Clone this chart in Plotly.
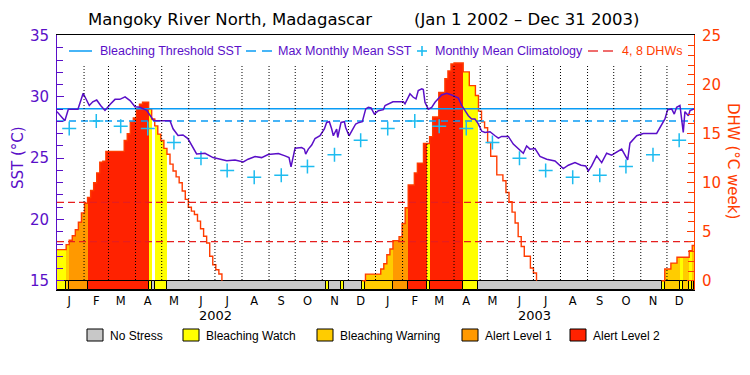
import numpy as np
import pandas as pd
import plotly.graph_objects as go

# ---------------- data ----------------
START = pd.Timestamp("2002-01-01")
N_DAYS = 730
title_site = "Mangoky River North, Madagascar"
title_period = "(Jan 1 2002 \u2013 Dec 31 2003)"
month_letters = ["J", "F", "M", "A", "M", "J", "J", "A", "S", "O", "N", "D"]
year_labels = ["2002", "2003"]

# monthly mean climatology (deg C), Jan..Dec
clim_sst = [27.43, 28.03, 27.60, 27.43, 26.29, 25.00, 23.99, 23.45, 23.60, 24.33, 25.28, 26.46]
mmm_sst = 28.03          # maximum monthly mean
threshold_sst = 29.03    # bleaching threshold (MMM + 1)
dhw_alert_levels = [4, 8]

# SST readings: (day since Jan 1 2002, SST deg C)
sst_points = [
    (0, 28.8), (4, 28.5), (9, 28.06), (13, 29.0), (24, 29.0), (30, 30.3), (37, 29.3),
    (41, 29.6), (45.5, 29.75), (50, 29.3), (55, 28.9), (61, 29.4), (66.5, 29.8), (72, 29.8),
    (78, 30.0), (83.7, 29.7), (89.4, 29.2), (95, 29.15), (102.8, 28.9), (110.4, 28.1),
    (114, 28.05), (129.5, 28.05), (133, 27.4), (138.7, 26.85), (144.4, 26.9), (150, 26.6),
    (154.4, 26.05), (160, 25.35), (169.6, 25.4), (178.8, 25.05), (194.5, 24.8), (204, 24.85),
    (213.5, 24.7), (219, 24.92), (227, 25.14), (234.5, 25.05), (242, 25.3), (246, 25.33),
    (253.7, 25.38), (261.3, 25.19), (265.9, 25.05), (268.2, 24.29), (270.9, 25.05),
    (272.8, 25.82), (280.4, 25.87), (283.5, 25.74), (285, 25.33), (288, 25.74), (291.9, 26.07),
    (295.7, 26.61), (301.4, 26.83), (306.4, 27.38), (309, 27.92), (312.1, 27.98), (314.8, 27.38),
    (316.7, 26.83), (320.5, 27.38), (321.7, 26.69), (325.5, 27.92), (329.3, 27.98),
    (330.8, 27.51), (334.7, 26.83), (338.5, 27.32), (342.3, 27.79), (346.1, 27.92),
    (349.9, 27.98), (353.8, 29.02), (356.8, 29.15), (359.9, 29.1), (363.7, 28.6), (368.3, 28.88),
    (374, 28.96), (376, 29.3), (385, 29.6), (397, 29.6), (398.8, 29.43), (404.5, 30.25),
    (408.3, 29.97), (411.4, 29.84), (414, 30.52), (418, 30.66), (419.8, 30.6), (421.7, 29.56),
    (425.5, 29.0), (429.4, 29.15), (433.2, 29.56), (440.8, 30.16), (446.6, 30.3), (452.3, 30.16),
    (460, 29.9), (463.8, 29.3), (467.6, 28.9), (471.4, 28.47), (475.2, 28.2), (479, 28.2),
    (482.8, 27.8), (486.7, 27.2), (490.5, 27.1), (496.2, 27.16), (502, 26.83), (505.8, 26.64),
    (509.6, 26.78), (517.2, 26.78), (522.9, 26.15), (528.7, 25.79), (534.4, 25.4), (538.2, 26.0),
    (542.1, 25.74), (547.8, 25.79), (553.5, 25.14), (561.2, 24.92), (570.7, 24.78),
    (580.2, 24.15), (586, 24.43), (593.6, 24.64), (600.5, 24.43), (605.9, 24.37), (608.9, 23.96),
    (612.7, 24.37), (618.4, 25.19), (624.2, 24.64), (629.9, 25.41), (635.6, 25.25),
    (643.2, 25.6), (647.1, 25.74), (654, 24.86), (656.6, 26.23), (664.3, 26.83), (671.9, 27.02),
    (687.2, 27.02), (691, 27.51), (696.7, 28.2), (699.8, 28.96), (704.4, 29.02), (707.4, 28.6),
    (710.1, 29.15), (713.9, 29.3), (715.9, 28.2), (717.7, 27.1), (719.6, 28.8), (723.5, 28.47),
    (725.4, 28.88), (730, 29.02),
]

# Degree Heating Weeks, twice-weekly (every 3.5 days from Jan 1 2002)
dhw_step_days = 3.5
dhw_values = (
    [3.18, 3.18, 3.18, 3.69, 4.13, 4.6, 5.2, 5.97, 6.93, 7.9]
    + [8.5, 9.2, 10.0, 11.0, 12.1, 12.2, 13.2, 13.2, 13.2, 13.2]
    + [13.2, 13.2, 14.3, 15.0, 16.2, 16.6, 17.5, 18.0, 18.2, 18.2]
    + [17.5, 16.5, 15.8, 14.96, 14.3, 13.5, 12.9, 11.9, 11.2, 10.6]
    + [10.0, 9.15, 8.3, 7.5, 7.1, 6.76, 6.08, 5.3, 4.54, 3.86]
    + [2.5, 1.64, 1.13, 0.7, 0, 0, 0, 0, 0, 0]
    + [0] * 40
    + [0, 0.68, 0.68, 0.68, 0.68, 0.68, 1.2, 1.74, 2.66, 3.24]
    + [4.1, 4.1, 4.5, 5.84, 7.45, 9.77, 9.77, 11.0, 12.0, 12.0]
    + [14.0, 14.0, 14.7, 16.7, 16.7, 19.2, 19.2, 20.6, 21.4, 22.1]
    + [22.2, 22.2, 22.2, 21.3, 21.3, 19.9, 19.9, 18.9, 17.3, 16.2]
    + [15.6, 14.1, 12.7, 12.7, 10.8, 10.8, 10.2, 9.0, 8.06, 7.0]
    + [5.9, 4.5, 3.5, 2.5, 2.5, 1.3, 0.8, 0, 0, 0]
    + [0] * 39
    + [1.2, 1.2, 1.8, 1.8, 2.4, 2.4, 2.4, 2.4, 3.07, 3.6]
)
# stress level per twice-weekly step, as (level, number of steps)
# 0 no stress, 1 watch, 2 warning, 3 alert 1, 4 alert 2
stress_runs = [
    (1, 3), (2, 1), (3, 6), (4, 20), (1, 1), (0, 1), (1, 4), (0, 52), (1, 1), (0, 4),
    (1, 1), (0, 6), (1, 1), (2, 9), (3, 5), (4, 6), (1, 1), (4, 11), (1, 5), (0, 60),
    (1, 1), (2, 5), (1, 1), (2, 2), (1, 1), (2, 1),
]
stress_names = ["No Stress", "Bleaching Watch", "Bleaching Warning", "Alert Level 1", "Alert Level 2"]
stress_colors = ["#c8c8c8", "#ffff00", "#ffcc00", "#ff9900", "#ff2200"]

# ---------------- styles ----------------
PURPLE = "#5a0fc8"
ORANGE = "#ff3c00"
BLUE = "#0a9cf5"
CYAN = "#1ebcf0"
DASHRED = "#e61e1e"
FONT = "DejaVu Sans"
W, H = 750, 375
L, R, T, B = 57, 56, 35, 85
PW, PH = W - L - R, H - T - B
SST_RANGE = [14.25, 35.05]
DHW_RANGE = [(SST_RANGE[0] - 15) * 1.25, (SST_RANGE[1] - 15) * 1.25]


def to_date(days):
    return START + pd.to_timedelta(np.asarray(days, dtype=float), unit="D")


def px(xp):
    return (xp - L) / PW


def py(yp):
    return (H - B - yp) / PH


END = START + pd.Timedelta(days=N_DAYS)
stress = []
for lvl, n in stress_runs:
    stress += [lvl] * n
n_steps = len(dhw_values)
stress = stress[:n_steps] + [0] * max(0, n_steps - len(stress))
step_start = np.arange(n_steps) * dhw_step_days
DAY_MS = 86400000.0

fig = go.Figure()

# filled area under the DHW curve, coloured by stress level (DHW axis = y)
for lvl in range(1, 5):
    idx = [i for i in range(n_steps) if stress[i] == lvl and dhw_values[i] > 0]
    fig.add_trace(go.Bar(
        x=to_date(step_start[idx] + dhw_step_days / 2), y=[dhw_values[i] for i in idx],
        width=[dhw_step_days * DAY_MS] * len(idx), base=0,
        marker=dict(color=stress_colors[lvl], line=dict(width=0)),
        yaxis="y", showlegend=False, hoverinfo="skip"))

# stress strip at the bottom
seg_c, seg_w, seg_col = [], [], []
i = 0
while i < n_steps:
    j = i
    while j + 1 < n_steps and stress[j + 1] == stress[i]:
        j += 1
    s0 = step_start[i]
    s1 = min(step_start[j] + dhw_step_days, N_DAYS)
    seg_c.append((s0 + s1) / 2)
    seg_w.append((s1 - s0) * DAY_MS)
    seg_col.append(stress_colors[stress[i]])
    i = j + 1
fig.add_trace(go.Bar(
    x=to_date(seg_c), y=[-DHW_RANGE[0]] * len(seg_c), base=DHW_RANGE[0], width=seg_w,
    marker=dict(color=seg_col, line=dict(color="black", width=1)),
    yaxis="y", showlegend=False, hoverinfo="skip"))

# 4 and 8 DHW reference lines
for lv in dhw_alert_levels:
    fig.add_trace(go.Scatter(x=[START, END], y=[lv, lv], mode="lines",
                             line=dict(color=DASHRED, width=1.3, dash="7px,4px"),
                             yaxis="y", showlegend=False, hoverinfo="skip"))

# DHW line (stepped)
dline = []
for k in range(n_steps):
    v = dhw_values[k]
    prev_v = dhw_values[k - 1] if k > 0 else 0
    next_v = dhw_values[k + 1] if k + 1 < n_steps else 0
    dline.append(v if (v > 0 or prev_v > 0 or next_v > 0) else None)
fig.add_trace(go.Scatter(
    x=list(to_date(np.append(step_start, step_start[-1] + dhw_step_days))),
    y=dline + [dline[-1]], mode="lines", line=dict(color=ORANGE, width=1.4, shape="hv"),
    yaxis="y", showlegend=False, hoverinfo="skip", connectgaps=False))

# SST-axis traces (y2, drawn above)
fig.add_trace(go.Scatter(x=[START, END], y=[threshold_sst] * 2, mode="lines",
                         line=dict(color=BLUE, width=1.5), yaxis="y2", showlegend=False))
fig.add_trace(go.Scatter(x=[START, END], y=[mmm_sst] * 2, mode="lines",
                         line=dict(color=BLUE, width=1.5, dash="7px,5px"), yaxis="y2", showlegend=False))
clim_dates = [pd.Timestamp(year=y, month=m + 1, day=15) for y in (2002, 2003) for m in range(12)]
fig.add_trace(go.Scatter(x=clim_dates, y=clim_sst * 2, mode="markers",
                         marker=dict(symbol="cross-thin", size=10, line=dict(color=CYAN, width=1.5)),
                         yaxis="y2", showlegend=False))
sst_day = [p[0] for p in sst_points]
sst_val = [p[1] for p in sst_points]
fig.add_trace(go.Scatter(x=to_date(sst_day), y=sst_val, mode="lines",
                         line=dict(color=PURPLE, width=1.5), yaxis="y2", showlegend=False))

# month-boundary dotted lines
shapes = []
for y in (2002, 2003):
    for m in range(1, 13):
        d = pd.Timestamp(year=y, month=m, day=1)
        if d == START:
            continue
        shapes.append(dict(type="line", xref="x", yref="paper", x0=d, x1=d,
                           y0=py(280), y1=py(65), layer="above",
                           line=dict(color="black", width=1, dash="1px,2px")))

annotations = []
# title
annotations.append(dict(text=title_site, x=px(86), y=py(20), xref="paper", yref="paper",
                        xanchor="left", yanchor="middle", showarrow=False,
                        font=dict(family=FONT, size=16.5, color="black")))
annotations.append(dict(text=title_period, x=px(412), y=py(20), xref="paper", yref="paper",
                        xanchor="left", yanchor="middle", showarrow=False,
                        font=dict(family=FONT, size=16.5, color="black")))
# axis titles
annotations.append(dict(text="SST (\u00b0C)", x=px(18), y=py(158), xref="paper", yref="paper",
                        xanchor="center", yanchor="middle",
                        textangle=-90, showarrow=False, font=dict(family=FONT, size=15, color=PURPLE)))
annotations.append(dict(text="DHW (\u00b0C week)", x=px(733), y=py(161), xref="paper", yref="paper",
                        xanchor="center", yanchor="middle",
                        textangle=90, showarrow=False, font=dict(family=FONT, size=15, color=ORANGE)))
# year labels
for k, ylab in enumerate(year_labels):
    annotations.append(dict(text=ylab, x=pd.Timestamp(year=2002 + k, month=7, day=2), y=py(315.5),
                            xref="x", yref="paper", xanchor="center", yanchor="middle", showarrow=False,
                            font=dict(family=FONT, size=13, color="black")))

# top legend
LEG_Y = py(51)
shapes.append(dict(type="line", xref="paper", yref="paper", x0=px(69), x1=px(92), y0=LEG_Y, y1=LEG_Y,
                   line=dict(color=BLUE, width=1.5)))
for a, b in [(246, 256), (262, 272)]:
    shapes.append(dict(type="line", xref="paper", yref="paper", x0=px(a), x1=px(b), y0=LEG_Y, y1=LEG_Y,
                       line=dict(color=BLUE, width=1.5)))
shapes.append(dict(type="line", xref="paper", yref="paper", x0=px(417), x1=px(427), y0=LEG_Y, y1=LEG_Y,
                   line=dict(color=CYAN, width=1.6)))
shapes.append(dict(type="line", xref="paper", yref="paper", x0=px(422), x1=px(422), y0=py(56), y1=py(46),
                   line=dict(color=CYAN, width=1.6)))
for a, b in [(588, 598), (603, 613)]:
    shapes.append(dict(type="line", xref="paper", yref="paper", x0=px(a), x1=px(b), y0=LEG_Y, y1=LEG_Y,
                       line=dict(color=DASHRED, width=1.3)))
for txt, x0, col in [("Bleaching Threshold SST", 98, PURPLE), ("Max Monthly Mean SST", 276, PURPLE),
                     ("Monthly Mean Climatology", 433, PURPLE), ("4, 8 DHWs", 620, ORANGE)]:
    annotations.append(dict(text=txt, x=px(x0), y=LEG_Y, xref="paper", yref="paper", xanchor="left",
                            yanchor="middle", showarrow=False,
                            font=dict(family="Liberation Sans", size=12.5, color=col)))

# bottom legend
box_x = [87, 183, 317, 462, 570]
for k, name in enumerate(stress_names):
    shapes.append(dict(type="rect", xref="paper", yref="paper", x0=px(box_x[k]), x1=px(box_x[k] + 16),
                       y0=py(341), y1=py(329), fillcolor=stress_colors[k],
                       line=dict(color="black", width=1)))
    annotations.append(dict(text=name, x=px(box_x[k] + 21), y=py(335.5), xref="paper", yref="paper",
                            xanchor="left", yanchor="middle", showarrow=False,
                            font=dict(family="Liberation Sans", size=12, color="black")))

mid_month = [pd.Timestamp(year=y, month=m + 1, day=15) for y in (2002, 2003) for m in range(12)]
fig.update_layout(
    width=W, height=H, margin=dict(l=L, r=R, t=T, b=B, pad=0, autoexpand=False),
    paper_bgcolor="white", plot_bgcolor="white", barmode="overlay", bargap=0,
    shapes=shapes, annotations=annotations, showlegend=False,
    xaxis=dict(type="date", range=[START, END], tickmode="array", tickvals=mid_month,
               ticktext=month_letters * 2, ticks="", showgrid=False, zeroline=False,
               showline=True, linecolor="black", linewidth=1, mirror=True, automargin=False,
               tickfont=dict(family=FONT, size=11.5, color="black"), ticklabelstandoff=0),
    yaxis=dict(range=DHW_RANGE, side="right", tickmode="linear", tick0=0, dtick=5,
               ticks="inside", ticklen=7, tickcolor=ORANGE, tickwidth=1, automargin=False,
               minor=dict(dtick=1, tick0=0, ticks="inside", ticklen=6, tickcolor=ORANGE, tickwidth=1),
               showgrid=False, zeroline=False, showline=True, linecolor=ORANGE, linewidth=1,
               tickfont=dict(family=FONT, size=15, color=ORANGE), ticklabelstandoff=4),
    yaxis2=dict(range=SST_RANGE, side="left", overlaying="y", tickmode="linear", tick0=15, dtick=5,
                ticks="inside", ticklen=7, tickcolor=PURPLE, tickwidth=1, automargin=False,
                minor=dict(dtick=1, tick0=0, ticks="inside", ticklen=6, tickcolor=PURPLE, tickwidth=1),
                showgrid=False, zeroline=False, showline=True, linecolor=PURPLE, linewidth=1,
                tickfont=dict(family=FONT, size=15, color=PURPLE), ticklabelstandoff=4),
)
fig.write_html("out.html", config={"displayModeBar": False},
               post_script="document.body.style.margin='0';")
